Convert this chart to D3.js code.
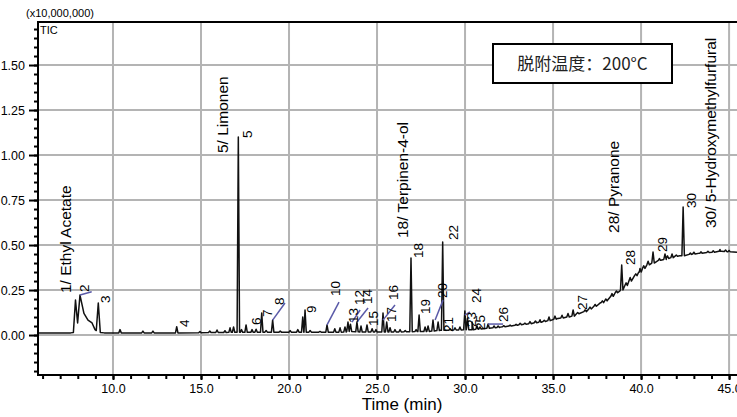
<!DOCTYPE html>
<html>
<head>
<meta charset="utf-8">
<script src="https://cdn.jsdelivr.net/npm/d3@7"></script>
<style>
  body { margin: 0; background: #fff; }
  svg { display: block; }
  .tick text { font-family: "Liberation Sans Narrow", "Liberation Sans", Arial, sans-serif; font-size: 12.5px; fill: #000; }
</style>
</head>
<body>
<svg id="chart" width="737" height="417"></svg>
<script>
// baseline of the trace (min, x10,000,000), incl. the broad peaks 1-3
var baseT = [5.74, 7.6, 7.75, 7.87, 7.99, 8.125, 8.35, 8.58, 8.81, 8.98, 9.05, 9.165, 9.28, 9.5,
  10, 11, 13, 15, 17, 20, 25, 27, 28.6, 30.4, 32, 33.2, 34.3, 35.2, 36.5, 37.7, 38.8, 39.9,
  41.1, 42.2, 43.35, 44.5, 45.45];
var baseV = [0.011, 0.012, 0.014, 0.194, 0.067, 0.222, 0.12, 0.083, 0.067, 0.03, 0.025, 0.178, 0.014, 0.012,
  0.012, 0.012, 0.012, 0.014, 0.015, 0.016, 0.017, 0.02, 0.027, 0.03, 0.044, 0.058, 0.072, 0.09, 0.12, 0.18, 0.245, 0.35,
  0.415, 0.44, 0.455, 0.465, 0.46];

// narrow spikes: retention time, apex, foot
var spikeT = [10.4, 11.7, 12.27, 13.62, 14.94, 15.5, 15.91, 16.36, 16.65, 16.85, 17.12, 17.3, 17.56, 17.9,
  18.13, 18.45, 18.7, 19.07, 19.5, 20.06, 20.5, 20.78, 20.91, 21.2, 21.76, 22.16, 22.6, 22.9, 23.18,
  23.35, 23.49, 23.86, 24.09, 24.43, 24.72, 24.94, 25.34, 25.55, 25.74, 26.02, 26.31, 26.6, 26.93,
  27.22, 27.39, 27.73, 27.9, 28.18, 28.47, 28.73, 29.15, 29.43, 29.71, 29.99, 30.14, 30.4, 30.68,
  30.85, 31.31, 31.65, 31.88, 32.56, 33.13, 33.69, 34.26, 34.77, 35.11, 35.51, 35.85, 36.14, 36.82,
  37.39, 37.8, 38.35, 38.9, 39.38, 39.94, 40.4, 40.68, 41.36, 41.76, 42.39, 43.0, 43.8, 44.49, 45.0];
var spikeTop = [0.03, 0.022, 0.022, 0.046, 0.02, 0.022, 0.028, 0.024, 0.04, 0.045, 1.10, 0.03, 0.056, 0.03,
  0.032, 0.122, 0.025, 0.083, 0.022, 0.025, 0.03, 0.10, 0.139, 0.025, 0.02, 0.056, 0.035, 0.04, 0.045,
  0.072, 0.06, 0.072, 0.05, 0.056, 0.035, 0.03, 0.122, 0.072, 0.04, 0.03, 0.03, 0.025, 0.428,
  0.03, 0.111, 0.045, 0.05, 0.083, 0.072, 0.517, 0.035, 0.04, 0.045, 0.133, 0.094, 0.072, 0.05,
  0.045, 0.061, 0.05, 0.05, 0.055, 0.065, 0.075, 0.085, 0.10, 0.105, 0.11, 0.12, 0.139, 0.14,
  0.17, 0.19, 0.23, 0.389, 0.32, 0.37, 0.41, 0.461, 0.45, 0.45, 0.711, 0.46, 0.465, 0.475, 0.47];
var spikeFoot = [0.012, 0.012, 0.012, 0.012, 0.013, 0.014, 0.014, 0.014, 0.015, 0.015, 0.015, 0.015, 0.015, 0.015,
  0.015, 0.016, 0.016, 0.016, 0.016, 0.016, 0.016, 0.016, 0.016, 0.016, 0.016, 0.016, 0.016, 0.016, 0.017,
  0.02, 0.02, 0.018, 0.017, 0.017, 0.017, 0.017, 0.017, 0.017, 0.017, 0.017, 0.017, 0.018, 0.018,
  0.019, 0.019, 0.02, 0.02, 0.022, 0.025, 0.026, 0.027, 0.028, 0.028, 0.029, 0.03, 0.03, 0.032,
  0.033, 0.038, 0.04, 0.042, 0.05, 0.057, 0.063, 0.071, 0.08, 0.088, 0.095, 0.10, 0.105, 0.13,
  0.16, 0.18, 0.215, 0.25, 0.3, 0.35, 0.39, 0.40, 0.42, 0.43, 0.44, 0.45, 0.458, 0.465, 0.462];

// small grass on the rising baseline
var grassT = [32.2, 32.9, 33.4, 34.0, 34.5, 36.4, 37.1, 38.0, 38.6, 39.15, 39.7, 40.15, 41.05, 41.5,
  42.0, 42.8, 43.4, 44.1, 44.8];
var grassTop = [0.052, 0.06, 0.066, 0.078, 0.082, 0.125, 0.155, 0.2, 0.245, 0.29, 0.34, 0.385, 0.425, 0.44,
  0.445, 0.455, 0.462, 0.468, 0.472];
var grassFoot = [0.046, 0.054, 0.06, 0.068, 0.075, 0.118, 0.145, 0.19, 0.235, 0.275, 0.33, 0.37, 0.415, 0.425,
  0.438, 0.448, 0.455, 0.46, 0.464];

// peak numbers
var numText = ["2", "3", "4", "5", "6", "7", "8", "9", "10", "13", "12", "14", "15", "17", "16", "18", "19",
  "20", "21", "22", "23", "24", "25", "26", "27", "28", "29", "30"];
var numT = [8.35, 9.55, 14.03, 17.61, 18.125, 18.75, 19.43, 21.25, 22.61, 23.64, 23.98, 24.43, 24.77, 25.8,
  25.91, 27.33, 27.73, 28.69, 29.03, 29.32, 30.34, 30.63, 30.85, 32.16, 36.65, 39.38, 41.19, 42.84];
var numV = [0.239, 0.178, 0.044, 1.094, 0.056, 0.10, 0.167, 0.122, 0.217, 0.067, 0.167, 0.172, 0.05, 0.072,
  0.194, 0.428, 0.117, 0.206, 0.017, 0.528, 0.044, 0.178, 0.028, 0.072, 0.139, 0.389, 0.461, 0.706];

// compound names
var nameText = ["1/ Ethyl Acetate", "5/ Limonen", "18/ Terpinen-4-ol", "28/ Pyranone", "30/ 5-Hydroxymethylfurfural"];
var nameT = [7.27, 16.19, 26.42, 38.41, 43.92];
var nameV = [0.233, 1.011, 0.539, 0.567, 0.594];

// leader lines from peak to number
var leadT1 = [8.13, 19.07, 22.16, 23.58, 23.86, 25.34, 28.3, 29.99, 31.31];
var leadV1 = [0.222, 0.083, 0.056, 0.072, 0.072, 0.083, 0.083, 0.11, 0.061];
var leadT2 = [8.79, 19.77, 22.84, 24.04, 24.49, 26.02, 28.75, 30.28, 32.16];
var leadV2 = [0.24, 0.178, 0.183, 0.139, 0.15, 0.167, 0.194, 0.128, 0.061];

var xGrid = [10, 15, 20, 25, 30, 35, 40, 45];
var yGrid = [0, 0.25, 0.5, 0.75, 1.0, 1.25, 1.5];

var svg = d3.select("#chart");
var L = 38, R = 737, T = 22, B = 375;

var x = d3.scaleLinear().domain([5.74, 45.45]).range([L, R]);
var y = d3.scaleLinear().domain([-0.222, 1.739]).range([B, T]);

// grid
svg.append("g").selectAll("line").data(xGrid).enter().append("line")
  .attr("x1", function (d) { return x(d); }).attr("x2", function (d) { return x(d); })
  .attr("y1", T).attr("y2", B)
  .attr("stroke", "#b4b4b4").attr("stroke-width", 2);
svg.append("g").selectAll("line").data(yGrid).enter().append("line")
  .attr("x1", L).attr("x2", R)
  .attr("y1", function (d) { return y(d); }).attr("y2", function (d) { return y(d); })
  .attr("stroke", "#b4b4b4").attr("stroke-width", 2);

// legend box
svg.append("rect").attr("x", 493).attr("y", 44).attr("width", 179).attr("height", 39)
  .attr("fill", "#fff").attr("stroke", "#000").attr("stroke-width", 2);
svg.append("text").attr("x", 582.5).attr("y", 64).attr("dy", "0.36em")
  .attr("text-anchor", "middle")
  .style("font-family", "'Noto Sans CJK SC', 'Noto Sans', sans-serif").style("font-size", "17px").style("fill", "#222")
  .text("脱附温度：200°C");

// trace
var pts = baseT.map(function (t, i) { return [t, baseV[i]]; });
var hw = 0.07;
spikeT.forEach(function (t, i) {
  pts.push([t - hw, spikeFoot[i]], [t, spikeTop[i]], [t + hw, spikeFoot[i]]);
});
grassT.forEach(function (t, i) {
  pts.push([t - hw, grassFoot[i]], [t, grassTop[i]], [t + hw, grassFoot[i]]);
});
pts.sort(function (a, b) { return a[0] - b[0]; });

svg.append("clipPath").attr("id", "clip").append("rect")
  .attr("x", L).attr("y", T).attr("width", R - L).attr("height", B - T);

svg.append("path").datum(pts)
  .attr("clip-path", "url(#clip)")
  .attr("fill", "none").attr("stroke", "#111").attr("stroke-width", 1.5)
  .attr("stroke-linejoin", "round")
  .attr("d", d3.line().x(function (d) { return x(d[0]); }).y(function (d) { return y(d[1]); }));

// leader lines
svg.append("g").selectAll("line").data(leadT1).enter().append("line")
  .attr("x1", function (d) { return x(d); })
  .attr("y1", function (d, i) { return y(leadV1[i]); })
  .attr("x2", function (d, i) { return x(leadT2[i]); })
  .attr("y2", function (d, i) { return y(leadV2[i]); })
  .attr("stroke", "#5a5aa8").attr("stroke-width", 1.5);

// peak numbers
svg.append("g").selectAll("text").data(numText).enter().append("text")
  .attr("transform", function (d, i) { return "translate(" + x(numT[i]) + "," + y(numV[i]) + ") rotate(-90)"; })
  .attr("dy", "0.36em")
  .style("font-family", "'Liberation Sans', Arial, sans-serif").style("font-size", "13.5px").style("fill", "#000")
  .text(function (d) { return d; });

// compound names
svg.append("g").selectAll("text").data(nameText).enter().append("text")
  .attr("transform", function (d, i) { return "translate(" + x(nameT[i]) + "," + y(nameV[i]) + ") rotate(-90)"; })
  .attr("dy", "0.36em")
  .style("font-family", "'Liberation Sans', Arial, sans-serif").style("font-size", "15.5px").style("fill", "#000")
  .text(function (d) { return d; });

// axes
svg.append("g").attr("transform", "translate(" + L + ",0)")
  .call(d3.axisLeft(y).tickValues(yGrid).tickSize(9).tickPadding(4).tickFormat(d3.format(".2f")));
svg.append("g").attr("transform", "translate(" + L + ",0)")
  .call(d3.axisLeft(y).tickValues(d3.range(-0.2, 1.72, 0.05)).tickSize(4).tickFormat(""));
svg.append("g").attr("transform", "translate(0," + B + ")")
  .call(d3.axisBottom(x).tickValues(xGrid).tickSize(5).tickPadding(4).tickFormat(d3.format(".1f")));
svg.append("g").attr("transform", "translate(0," + B + ")")
  .call(d3.axisBottom(x).tickValues(d3.range(6, 46, 1)).tickSize(4).tickFormat(""));
svg.selectAll(".domain").remove();
svg.selectAll(".tick line").attr("stroke", "#000").attr("stroke-width", 2);

// frame
svg.append("line").attr("x1", L).attr("x2", L).attr("y1", T - 1).attr("y2", B + 1).attr("stroke", "#000").attr("stroke-width", 2);
svg.append("line").attr("x1", L).attr("x2", R).attr("y1", T).attr("y2", T).attr("stroke", "#000").attr("stroke-width", 2);
svg.append("line").attr("x1", L).attr("x2", R).attr("y1", B).attr("y2", B).attr("stroke", "#000").attr("stroke-width", 2);

// labels
svg.append("text").attr("x", 60).attr("y", 13).attr("dy", "0.35em").attr("text-anchor", "middle")
  .style("font-family", "'Liberation Sans Narrow', 'Liberation Sans', sans-serif").style("font-size", "11px")
  .text("(x10,000,000)");
svg.append("text").attr("x", 40).attr("y", 30).attr("dy", "0.35em")
  .style("font-family", "'Liberation Sans Narrow', 'Liberation Sans', sans-serif").style("font-size", "11px")
  .text("TIC");
svg.append("text").attr("x", 402).attr("y", 404).attr("dy", "0.35em").attr("text-anchor", "middle")
  .style("font-family", "'Liberation Sans', Arial, sans-serif").style("font-size", "17px")
  .text("Time (min)");
</script>
</body>
</html>
